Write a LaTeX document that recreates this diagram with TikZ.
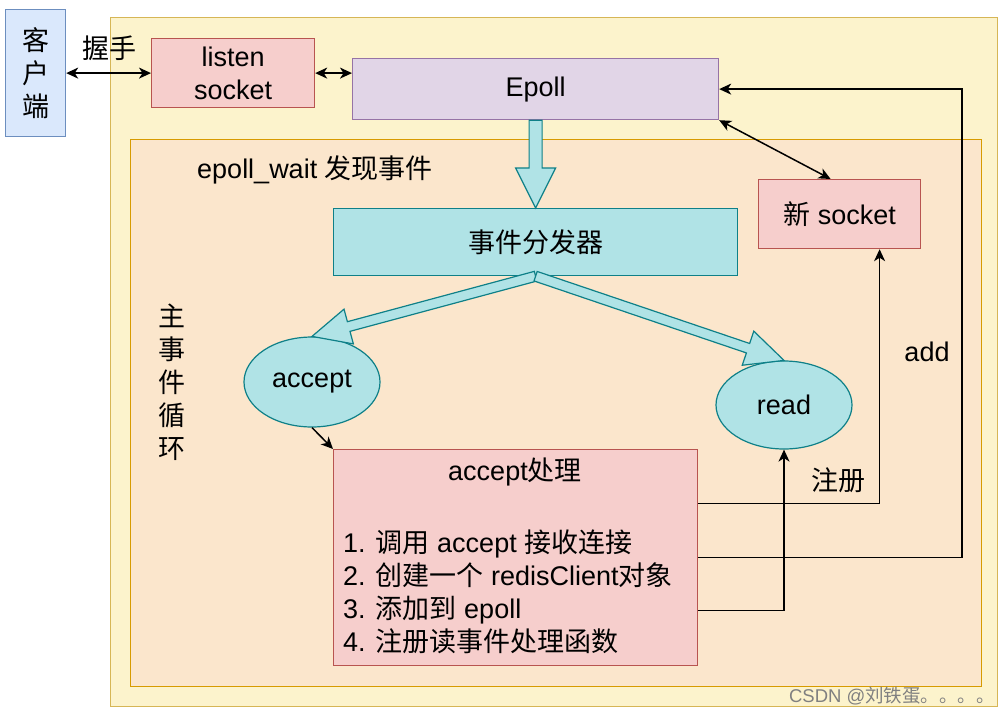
\documentclass[tikz,border=0pt]{standalone}
\usepackage{fontspec}
\setmainfont{Liberation Sans}
\newfontfamily\cjk{Noto Sans CJK SC}
\newcommand{\zh}[1]{{\cjk #1}}
\usepackage{tikz}
\usetikzlibrary{arrows.meta,calc,shapes.geometric}

\definecolor{yfill}{HTML}{FCF3CC}
\definecolor{ydraw}{HTML}{D6B656}
\definecolor{ofill}{HTML}{FBE6CC}
\definecolor{odraw}{HTML}{D79B00}
\definecolor{bfill}{HTML}{DAE8FC}
\definecolor{bdraw}{HTML}{6C8EBF}
\definecolor{rfill}{HTML}{F6CECC}
\definecolor{rdraw}{HTML}{B85450}
\definecolor{pfill}{HTML}{E1D5E7}
\definecolor{pdraw}{HTML}{9673A6}
\definecolor{tfill}{HTML}{B0E3E6}
\definecolor{tdraw}{HTML}{0E8088}

% block arrow: from, to, half shaft, half head, head length
\newcommand{\fatarrow}[5]{%
  \draw[blockarr] let \p1=(#1), \p2=(#2), \n1={atan2(\y2-\y1,\x2-\x1)} in
    ($(\p1)+(\n1+90:#3)$) -- ($(\p2)+(\n1+180:#5)+(\n1+90:#3)$)
    -- ($(\p2)+(\n1+180:#5)+(\n1+90:#4)$) -- (\p2)
    -- ($(\p2)+(\n1+180:#5)+(\n1-90:#4)$)
    -- ($(\p2)+(\n1+180:#5)+(\n1-90:#3)$)
    -- ($(\p1)+(\n1-90:#3)$) -- cycle;}

\begin{document}
\begin{tikzpicture}[x=1pt,y=-1pt,
  font=\fontsize{27}{33}\selectfont,
  zhtext/.style={font=\fontsize{27}{33}\selectfont\cjk},
  box/.style={rectangle, line width=1.2pt, inner sep=0pt, align=center, anchor=north west},
  oval/.style={ellipse, line width=1.2pt, inner sep=0pt, fill=tfill, draw=tdraw},
  arr/.style={line width=1.5pt, -{Stealth[length=12pt,width=11pt,inset=3.5pt]}},
  dblarr/.style={line width=1.5pt, {Stealth[length=12pt,width=11pt,inset=3.5pt]}-{Stealth[length=12pt,width=11pt,inset=3.5pt]}},
  blockarr/.style={line width=1.2pt, fill=tfill, draw=tdraw, line join=miter}]
\useasboundingbox (0,0) rectangle (1008,717);

%Shape: Rectangle (server side)
\node[box, fill=yfill, draw=ydraw, minimum width=887, minimum height=689] (server) at (110,17) {};
%Shape: Rectangle (event loop)
\node[box, fill=ofill, draw=odraw, minimum width=851, minimum height=547] (loop) at (130,139) {};

%Shape: Rectangle
\node[box, zhtext, fill=bfill, draw=bdraw, minimum width=60, minimum height=127] (client) at (5,9) {客\\户\\端};
%Shape: Rectangle
\node[box, fill=rfill, draw=rdraw, minimum width=163, minimum height=69] (listen) at (151,38) {listen\\socket};
%Shape: Rectangle
\node[box, fill=pfill, draw=pdraw, minimum width=366, minimum height=61] (epoll) at (352,58) {Epoll};
%Shape: Rectangle
\node[box, fill=tfill, draw=tdraw, minimum width=404, minimum height=67] (disp) at (333,208) {\zh{事件分发器}};
%Shape: Rectangle
\node[box, fill=rfill, draw=rdraw, minimum width=162, minimum height=69] (newsock) at (758,179) {\zh{新} socket};
%Shape: Ellipse
\node[oval, minimum width=136, minimum height=90] (accept) at (312,382) {accept};
%Shape: Ellipse
\node[oval, minimum width=136, minimum height=88] (read) at (784,405) {read};
%Shape: Rectangle
\node[box, fill=rfill, draw=rdraw, minimum width=364, minimum height=216] (handler) at (333,449) {};

% Text Node
\node (shake) at (109,48) {\zh{握手}};
% Text Node
\node (waittext) at (315,170) {epoll\_wait \zh{发现事件}};
% Text Node
\node[zhtext, align=center] (looptext) at (172,382) {主\\事\\件\\循\\环};
% Text Node
\node (htitle) at (515,472) {accept\zh{处理}};
% Text Node
\node[anchor=west, align=left, inner sep=0pt] (hlist) at (343,592) {1. \zh{调用} accept \zh{接收连接}\\2. \zh{创建一个} redisClient\zh{对象}\\3. \zh{添加到} epoll\\4. \zh{注册读事件处理函数}};
% Text Node
\node (reg) at (838,480) {\zh{注册}};
% Text Node
\node (addtext) at (927,352) {add};
% Text Node
\node[text=gray, font=\fontsize{18.5}{22}\selectfont] (mark) at (892,696) {CSDN @\zh{刘铁蛋。。。。}};

%Block Arrows
\fatarrow{epoll.south}{disp.north}{6.5pt}{20pt}{40pt}
\fatarrow{disp.south}{accept.north}{5pt}{18pt}{38pt}
\fatarrow{disp.south}{read.north}{5pt}{18pt}{38pt}

%Straight Lines
\draw[dblarr] (client.east) -- (listen.west);
\draw[dblarr] (listen.east) -- (listen.east -| epoll.west);
\draw[dblarr] (epoll.south east) -- ([xshift=-9pt]newsock.north);
\draw[arr] (accept.south) -- (handler.north west);
%Elbow Lines
\coordinate (rail) at (962,0);
\draw[arr] ([yshift=54pt]handler.east) -| ([xshift=40pt]newsock.south);
\draw[arr] (handler.east) -| (rail |- epoll.east) -- (epoll.east);
\draw[arr] ([yshift=-53pt]handler.east) -| (read.south);

\end{tikzpicture}
\end{document}
